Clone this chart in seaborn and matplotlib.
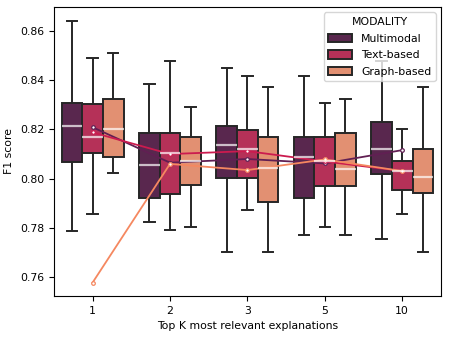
import numpy as np
import pandas as pd
import matplotlib
matplotlib.use("Agg")
import matplotlib.pyplot as plt
import seaborn as sns

# Categories
k_labels = ["1", "2", "3", "5", "10"]
modalities = ["Multimodal", "Text-based", "Graph-based"]

# Five-number summaries per K: [min, q1, median, q3, max]
multimodal_box = [
    [0.7789, 0.8069, 0.8215, 0.8308, 0.8641],
    [0.7823, 0.7923, 0.8056, 0.8184, 0.8385],
    [0.7704, 0.8004, 0.8135, 0.8214, 0.8448],
    [0.7772, 0.7923, 0.8087, 0.8168, 0.8417],
    [0.7755, 0.8020, 0.8119, 0.8231, 0.8480],
]
text_box = [
    [0.7857, 0.8103, 0.8168, 0.8304, 0.8492],
    [0.7791, 0.7939, 0.8103, 0.8184, 0.8477],
    [0.7873, 0.8004, 0.8119, 0.8199, 0.8417],
    [0.7805, 0.7972, 0.8071, 0.8168, 0.8308],
    [0.7857, 0.7954, 0.8031, 0.8072, 0.8200],
]
graph_box = [
    [0.8023, 0.8087, 0.8200, 0.8325, 0.8510],
    [0.7805, 0.7973, 0.8071, 0.8169, 0.8292],
    [0.7704, 0.7907, 0.8042, 0.8168, 0.8371],
    [0.7772, 0.7972, 0.8039, 0.8184, 0.8325],
    [0.7704, 0.7941, 0.8006, 0.8119, 0.8371],
]

# Mean F1 per K (connected lines)
multimodal_mean = [0.8209, 0.8065, 0.8080, 0.8062, 0.8116]
text_mean = [0.8188, 0.8100, 0.8112, 0.8070, 0.8031]
graph_mean = [0.7578, 0.8060, 0.8035, 0.8078, 0.8031]

box_rows = []
for mod, boxes in zip(modalities, [multimodal_box, text_box, graph_box]):
    for k, vals in zip(k_labels, boxes):
        for v in vals:
            box_rows.append({"K": k, "MODALITY": mod, "F1": v})
box_df = pd.DataFrame(box_rows)

mean_rows = []
for mod, means in zip(modalities, [multimodal_mean, text_mean, graph_mean]):
    for k, v in zip(k_labels, means):
        mean_rows.append({"K": k, "MODALITY": mod, "F1": v})
mean_df = pd.DataFrame(mean_rows)

plt.rcParams["font.size"] = 7.8
palette = sns.color_palette("rocket", 3)

fig, ax = plt.subplots(figsize=(4.49, 3.37), dpi=100)
fig.subplots_adjust(left=0.120, right=0.982, top=0.979, bottom=0.122)

sns.boxplot(data=box_df, x="K", y="F1", hue="MODALITY", order=k_labels,
            hue_order=modalities, palette=palette, whis=np.inf, width=0.8,
            linewidth=1.4,
            medianprops={"color": "white", "alpha": 0.7, "linewidth": 1.6},
            ax=ax)

n_before = len(ax.lines)
sns.pointplot(data=mean_df, x="K", y="F1", hue="MODALITY", order=k_labels,
              hue_order=modalities, palette=palette, dodge=False,
              errorbar=None, markers="o", linestyles="-", markersize=2.6,
              linewidth=1.3, legend=False, ax=ax)
for ln in ax.lines[n_before:]:
    ln.set_markerfacecolor("white")
    ln.set_markeredgewidth(0.9)

ax.set_ylim(0.7524, 0.8697)
ax.set_xlim(-0.5, 4.5)
ax.set_xlabel("Top K most relevant explanations")
ax.set_ylabel("F1 score")
ax.legend(title="MODALITY", loc="upper right", labelspacing=0.62,
          handleheight=0.8, handlelength=2.2)

fig.savefig("out.png", dpi=100)
